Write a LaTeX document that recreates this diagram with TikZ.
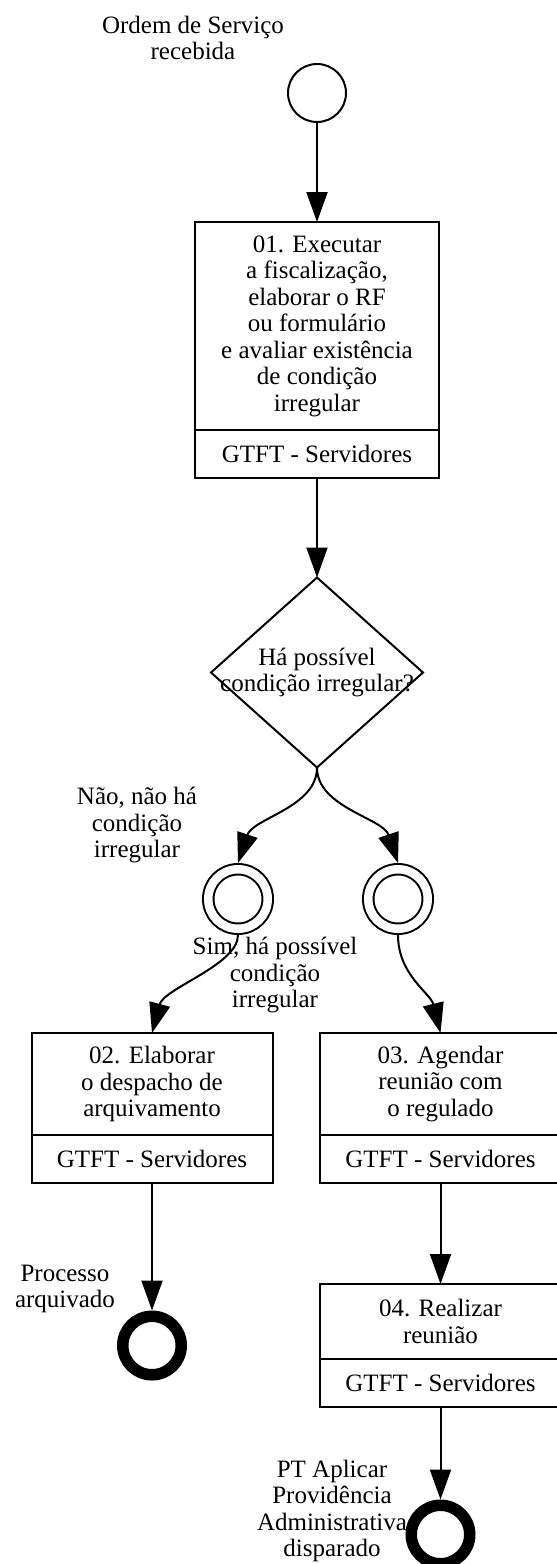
\documentclass[tikz,border=0pt]{standalone}
\usepackage{fontspec}
\setmainfont{Liberation Serif}
\usetikzlibrary{shapes.geometric,arrows.meta,positioning}

\begin{document}
\begin{tikzpicture}[
        x=1pt, y=-1pt,
        node distance=100pt,
        font=\fontsize{25}{26.5}\selectfont,
        task/.style={rectangle, draw=black, line width=2pt, minimum width=241pt,
                     align=center, inner sep=0pt, outer sep=0pt},
        role/.style={task, minimum height=47.5pt},
        gateway/.style={diamond, draw=black, line width=2pt, minimum width=212pt,
                        minimum height=190pt, inner sep=0pt, outer sep=0pt},
        startev/.style={circle, draw=black, line width=2pt, minimum size=58pt, inner sep=0pt},
        interev/.style={circle, draw=black, line width=2pt, double, double distance=8.5pt,
                        minimum size=59.5pt, inner sep=0pt, outer sep=6.25pt},
        endev/.style={circle, draw=black, line width=11.5pt, minimum size=58.5pt, inner sep=0pt},
        lbl/.style={align=center, inner sep=0pt},
        flow/.style={-{Triangle[length=30pt, width=21pt]}, line width=2pt}
    ]
        \useasboundingbox (0,0) rectangle (557,1564);

        \node[startev] (start) at (317,93) {};
        \node[lbl] (start-label) at (193,38) {Ordem de Serviço\\recebida};

        \node[task, minimum width=244pt, minimum height=208pt, below=99pt of start] (executar)
            {01. Executar\\a fiscalização,\\elaborar o RF\\ou formulário\\e avaliar existência\\de condição\\irregular};
        \node[role, minimum width=244pt, below=0pt of executar] (executar-role) {GTFT - Servidores};

        \node[gateway, below=100pt of executar-role] (decisao) {};
        \node[lbl] (decisao-text) at (decisao) {Há possível\\condição irregular?};

        \node[interev] (nao) at (238,899) {};
        \node[interev] (sim) at (398,899) {};
        \node[lbl] (nao-label) at (137,825) {Não, não há\\condição\\irregular};
        \node[lbl] (sim-label) at (275,975) {Sim, há possível\\condição\\irregular};

        \node[task, minimum height=102pt, anchor=north] (arquivar) at (152,1033)
            {02. Elaborar\\o despacho de\\arquivamento};
        \node[role, below=0pt of arquivar] (arquivar-role) {GTFT - Servidores};
        \node[task, minimum height=102pt, anchor=north] (agendar) at (440.5,1033)
            {03. Agendar\\reunião com\\o regulado};
        \node[role, below=0pt of agendar] (agendar-role) {GTFT - Servidores};
        \node[task, minimum height=75pt, below=101.5pt of agendar-role] (reuniao) {04. Realizar\\reunião};
        \node[role, below=0pt of reuniao] (reuniao-role) {GTFT - Servidores};

        \node[endev, below=128pt of arquivar-role] (arquivado) {};
        \node[lbl] (arquivado-label) at (65,1289) {Processo\\arquivado};
        \node[endev, below=93pt of reuniao-role] (providencia) {};
        \node[lbl] (providencia-label) at (332,1511) {PT Aplicar\\Providência\\Administrativa\\disparado};

        \draw[flow] (start) -- (executar);
        \draw[flow] (executar-role) -- (decisao);
        \draw[flow] (decisao.south) .. controls +(0,40) and +(15,-45) .. (nao.north);
        \draw[flow] (decisao.south) .. controls +(0,40) and +(-15,-45) .. (sim.north);
        \draw[flow] (nao.south) .. controls +(0,30) and +(12,-45) .. (arquivar.north);
        \draw[flow] (sim.south) .. controls +(0,40) and +(-10,-40) .. (agendar.north);
        \draw[flow] (arquivar-role) -- (arquivado);
        \draw[flow] (agendar-role) -- (reuniao);
        \draw[flow] (reuniao-role) -- (providencia);
    \end{tikzpicture}
\end{document}
